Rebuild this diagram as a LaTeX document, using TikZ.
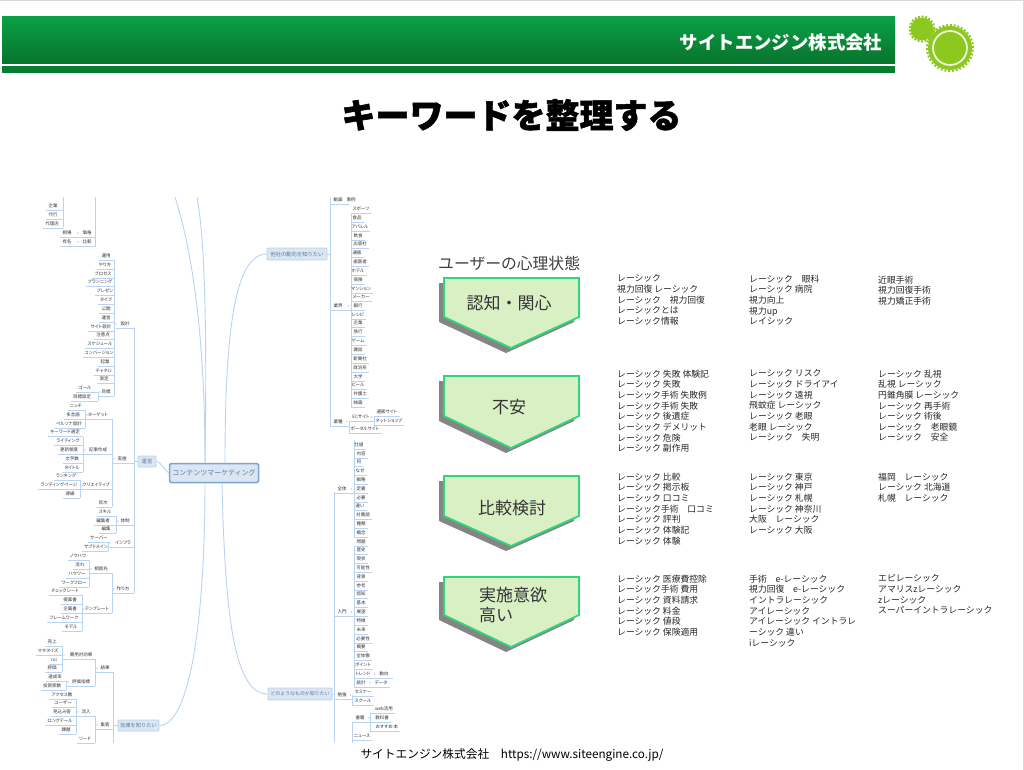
\documentclass[tikz,border=0pt]{standalone}
\usepackage{fontspec}
\setmainfont{Noto Sans CJK JP}
\newfontfamily\leaffont[RawFeature=+palt]{Noto Sans CJK JP}
\usetikzlibrary{calc}
\definecolor{mline}{HTML}{B9D3F2}
\definecolor{mtxt}{HTML}{333333}
\definecolor{mfill}{HTML}{DAE6F3}
\definecolor{mbord}{HTML}{BCD2EA}
\definecolor{mbordc}{HTML}{7DA5D2}
\definecolor{mtxtb}{HTML}{5F7A99}
\definecolor{pfill}{HTML}{D9EFC4}
\definecolor{pbord}{HTML}{2FD67C}
\definecolor{gearg}{HTML}{8CC820}
\definecolor{hdtop}{HTML}{0AA046}
\definecolor{hdbot}{HTML}{08732D}
\definecolor{hdstrip}{HTML}{087D32}
\newcount\nnc
\tikzset{
  leaf/.style={inner xsep=2pt,inner ysep=0pt,minimum height=8pt,text height=4pt,text depth=1pt,text=mtxt,font=\leaffont\fontsize{4.5}{5}\selectfont},
  mainbox/.style={draw=mbord,fill=mfill,rounded corners=1pt,line width=.8pt,text=mtxtb,inner sep=1pt},
  mbr/.style={draw=mline,line width=.9pt},
  mund/.style={draw=mline,line width=.7pt},
  bigc/.style={draw=mline,line width=.9pt},
  kw/.style={anchor=north west,inner sep=0pt,align=left,text=black!85,font=\fontsize{8.8}{10.65}\selectfont},
  plabel/.style={text=black!80,font=\fontsize{17}{20}\selectfont,inner sep=0pt}
}
% text left of the bracket
\newcommand{\mmL}[4]{\global\advance\nnc by 1
  \node[leaf] (n\the\nnc) at (#1,#2) {#3};
  \coordinate (b\the\nnc) at (#4,0);
  \draw[mund] (n\the\nnc.south west) -- (n\the\nnc.south west -| b\the\nnc);}
% text right of the bracket
\newcommand{\mmR}[4]{\global\advance\nnc by 1
  \node[leaf] (n\the\nnc) at (#1,#2) {#3};
  \coordinate (b\the\nnc) at (#4,0);
  \draw[mund] (n\the\nnc.south east) -- (n\the\nnc.south east -| b\the\nnc);}
% parent: underline from bracket to bracket
\newcommand{\mmP}[5]{\global\advance\nnc by 1
  \node[leaf] (n\the\nnc) at (#1,#2) {#3};
  \coordinate (a\the\nnc) at (#4,0);
  \coordinate (b\the\nnc) at (#5,0);
  \draw[mund] (n\the\nnc.south -| a\the\nnc) -- (n\the\nnc.south -| b\the\nnc);}
\newcommand{\mmT}[3]{\global\advance\nnc by 1
  \node[leaf] (n\the\nnc) at (#1,#2) {#3};}
\newcommand{\mmB}[3]{\draw[mbr] (#1,#2) -- (#1,#3);}
\newcommand{\mmD}[2]{\fill[mline] (#1,#2) circle (.9pt);}
\newcommand{\pent}[3]{%
  \fill[black!48] (439,#1+5) -- (574,#1+5) -- (574,#2+5) -- (506,#3+5) -- (439,#2+5) -- cycle;
  \draw[pbord,fill=pfill,line width=1.8pt,line join=miter] (444,#1) -- (579,#1) -- (579,#2) -- (511,#3) -- (444,#2) -- cycle;}
\begin{document}
\begin{tikzpicture}[x=1pt,y=-1pt]
\useasboundingbox (0,0) rectangle (1024,770);
\fill[white] (0,0) rectangle (1024,770);
\draw[black!15,line width=1.2pt] (0,0) -- (1024,0) -- (1024,770);
% header
\shade[top color=hdtop,bottom color=hdbot] (2,17) rectangle (895,64);
\fill[hdstrip] (2,66.5) rectangle (895,73);
\node[text=white,font=\fontsize{18.4}{20}\selectfont\bfseries,inner sep=0pt] (hd) at (781,42) {サイトエンジン株式会社};
% logo
\fill[gearg] (922,29) circle (11.5pt);
\draw[gearg,line width=2pt,dash pattern=on 2pt off 1.6pt] (922,29) circle (12.5pt);
\fill[gearg] (950,48) circle (22pt);
\draw[gearg,line width=2pt,dash pattern=on 2pt off 1.8pt] (950,48) circle (23pt);
\draw[white!85!gearg,line width=1.8pt] (950,48) circle (17pt);
% title
\node[text=black,font=\fontsize{34}{36}\selectfont\bfseries,inner sep=0pt] (title) at (511.5,115) {\addfontfeature{FakeBold=1.5}キーワードを整理する};
% footer
\node[text=black,font=\fontsize{11.7}{13}\selectfont,inner sep=0pt] (foot) at (512,755) {サイトエンジン株式会社　https://www.siteengine.co.jp/};

% ---------- mind map: main nodes
\node[draw=mbordc,fill=mfill,rounded corners=1.5pt,line width=1.5pt,text=mtxtb,font=\fontsize{7}{8}\selectfont,minimum width=89pt,minimum height=19pt,inner sep=0pt] (c) at (214,473) {コンテンツマーケティング};
\node[mainbox,font=\fontsize{5.3}{6}\selectfont,minimum width=18pt,minimum height=11pt] (unei) at (147,461.5) {運営};
\node[mainbox,font=\fontsize{5.2}{6}\selectfont,minimum width=41pt,minimum height=11pt] (koka) at (138.5,725.5) {効果を知りたい};
\node[mainbox,font=\fontsize{5.3}{6}\selectfont,minimum width=60pt,minimum height=12pt] (tasha) at (297,254) {他社の動向を知りたい};
\node[mainbox,font=\fontsize{4.9}{6}\selectfont,minimum width=64pt,minimum height=12pt] (dono) at (300,694) {どのようなものか知りたい};
\coordinate (ca) at (205,463); \coordinate (cb) at (205,483);
\coordinate (cc) at (225,463); \coordinate (cd) at (222,483);
\coordinate (ta) at (175,197); \coordinate (tb) at (197,197);
\draw[bigc] (ca) .. controls (205,350) and (195,260) .. (ta);
\draw[bigc] (ca) .. controls (207,330) and (205,240) .. (tb);
\draw[bigc] (cb) .. controls (205,620) and (190,725) .. (koka.east);
\draw[bigc] (cc) .. controls (225,330) and (235,254) .. (tasha.west);
\draw[bigc] (cd) .. controls (225,620) and (235,694) .. (dono.west);
\draw[bigc] (c.west) .. controls (163,468) and (160,461.5) .. (unei.east);
\coordinate (j1) at (134,461.5); \draw[bigc] (unei.west) -- (j1);
\coordinate (j2) at (113,725.5); \draw[bigc] (koka.west) -- (j2);
\coordinate (j3) at (330,254); \draw[bigc] (tasha.east) -- (j3);
\coordinate (j4) at (334,694); \draw[bigc] (dono.east) -- (j4);

% ---------- left: top fragment
\mmB{63.5}{197}{227}\mmB{95.5}{197}{246}
\mmL{53}{206}{企業}{63.5}\mmL{53}{215}{代行}{63.5}\mmL{52}{224}{代理店}{63.5}
\mmL{67}{233}{相場}{95.5}\mmT{87}{233}{価格}\mmD{78}{233}
\mmL{67}{242}{有名}{95.5}\mmT{87}{242}{比較}\mmD{78}{242}
% design
\mmB{114}{260}{396}\mmB{134}{328}{593}\mmB{98}{392}{401}
\mmL{106}{256}{運用}{114}\mmL{105}{265}{やり方}{114}\mmL{103}{274}{プロセス}{114}\mmL{100}{282}{プランニング}{114}
\mmL{105}{291}{プレゼン}{114}\mmL{106}{300}{タイプ}{114}\mmL{106}{309}{公開}{114}\mmL{106}{318}{運営}{114}
\mmL{101}{327}{サイト設計}{114}\mmL{103}{335}{注意点}{114}\mmL{100}{344}{スケジュール}{114}\mmL{99}{353}{コンバージョン}{114}
\mmL{105}{362}{起業}{114}\mmL{104}{371}{チャネル}{114}\mmL{104}{379}{測定}{114}
\mmL{85}{388}{ゴール}{98}\mmL{82}{397}{目標設定}{98}\mmP{106}{392}{目標}{98}{114}\mmD{100}{392}
\mmP{125}{324}{設計}{116}{134}\mmD{116}{324}
% jisshi
\mmB{112}{419}{507}\mmB{85}{410}{428}\mmB{83}{437}{472}\mmB{80}{480}{498}
\mmP{122}{459}{実施}{112}{134}\mmD{114}{459}
\mmL{76}{406}{ニッチ}{85}\mmL{73}{415}{多言語}{85}\mmL{69}{424}{ペルソナ設計}{85}
\mmP{98}{415}{ターゲット}{85}{112}\mmD{87}{415}
\mmL{65}{432}{キーワード選定}{83}\mmL{68}{441}{ライティング}{83}\mmL{69}{450}{更新頻度}{83}\mmL{72}{459}{文字数}{83}\mmL{72}{468}{タイトル}{83}
\mmP{98}{450}{記事作成}{83}{112}\mmD{85}{450}
\mmL{66}{476}{ランキング}{80}\mmL{59}{485}{ランディングページ}{80}\mmL{70}{494}{導線}{80}
\mmP{96}{485}{クリエイティブ}{80}{112}\mmD{82}{485}
\mmL{103}{503}{目次}{112}
% taisei, infra
\mmB{116}{516}{533}\mmB{108}{542}{551}
\mmL{105}{512}{スキル}{116}\mmL{103}{521}{編集者}{116}\mmL{106}{529}{編集}{116}
\mmP{125}{521}{体制}{116}{134}\mmD{118}{521}
\mmL{99}{538}{サーバー}{108}\mmL{96}{547}{サブドメイン}{108}
\mmP{123}{543}{インフラ}{108}{134}\mmD{110}{543}
% tsukurikata
\mmB{112}{573}{613}\mmB{89}{560}{587}\mmB{82}{595}{631}
\mmL{78}{556}{ノウハウ}{89}\mmL{80}{565}{流れ}{89}\mmL{77}{574}{ハウツー}{89}\mmL{74}{583}{ワークフロー}{89}
\mmP{101}{569}{相談先}{89}{112}\mmD{91}{569}
\mmL{65}{591}{チェックシート}{82}\mmL{70}{600}{提案書}{82}\mmL{70}{609}{企画書}{82}\mmL{64}{618}{フレームワーク}{82}\mmL{71}{627}{モデル}{82}
\mmP{97}{609}{テンプレート}{82}{112}\mmD{84}{609}
\mmP{123}{589}{作り方}{112}{134}\mmD{114}{589}
% effects
\mmB{113}{672}{743}\mmB{95}{659}{686}\mmB{62}{646}{672}\mmB{66}{681}{690}\mmB{95}{716}{743}\mmB{76}{699}{734}
\mmL{52}{642}{売上}{62}\mmL{48}{651}{マネタイズ}{62}\mmL{54}{660}{roi}{62}\mmL{52}{668}{評価}{62}
\mmP{81}{655}{費用対効果}{62}{95}\mmD{64}{655}
\mmL{55}{677}{達成率}{66}\mmL{52}{686}{投資家数}{66}
\mmP{81}{682}{評価指標}{66}{95}\mmD{68}{682}
\mmP{105}{668}{結果}{95}{113}\mmD{97}{668}
\mmL{62}{695}{アクセス数}{76}\mmL{63}{703}{ユーザー}{76}\mmL{62}{712}{見込み客}{76}\mmL{60}{721}{ロングテール}{76}\mmL{66}{730}{課題}{76}
\mmP{86}{712}{流入}{76}{95}\mmD{78}{712}
\mmL{85}{739}{リード}{95}
\mmP{105}{725}{集客}{95}{113}\mmD{97}{725}

% ---------- right: others
\mmB{330}{198}{427}\mmB{351}{213}{408}\mmB{349}{421}{433}\mmB{374}{416}{425}
\mmP{338}{200}{動画}{330}{349}\mmT{351}{200}{事例}
\mmR{361}{209}{スポーツ}{351}\mmR{357}{218}{食品}{351}\mmR{360}{227}{アパレル}{351}\mmR{358}{236}{飲食}{351}
\mmR{360}{244}{出版社}{351}\mmR{357}{253}{通販}{351}\mmR{360}{262}{歯医者}{351}\mmR{358}{271}{ホテル}{351}
\mmR{358}{280}{保険}{351}\mmR{361}{289}{マンション}{351}\mmR{361}{297}{メーカー}{351}\mmR{358}{306}{銀行}{351}
\mmR{358}{315}{レシピ}{351}\mmR{358}{323}{企業}{351}\mmR{358}{332}{旅行}{351}\mmR{358}{341}{ゲーム}{351}
\mmR{358}{350}{雑誌}{351}\mmR{360}{359}{新聞社}{351}\mmR{360}{368}{政治系}{351}\mmR{358}{377}{大学}{351}
\mmR{358}{385}{ビール}{351}\mmR{360}{394}{弁護士}{351}\mmR{358}{403}{映画}{351}
\mmP{338}{306}{業界}{330}{351}\mmD{348.5}{306}
\mmP{338}{422}{業種}{330}{349}\mmD{347}{422}
\mmP{361}{417}{ECサイト}{349}{374}\mmD{371.5}{417}
\mmR{387}{412}{通販サイト}{374}\mmR{389}{421}{ネットショップ}{374}\mmR{365}{429}{ポータルサイト}{349}
% ---------- right: what is it
\mmB{334}{492}{742}\mmB{354}{440}{537}\mmB{354}{546}{687}\mmB{352}{695}{705}\mmB{352}{722}{743}\mmB{370}{713}{731}
\mmR{359}{445}{仕組}{354}\mmR{361}{454}{内容}{354}\mmR{359}{462}{何}{354}\mmR{360}{471}{なぜ}{354}
\mmR{361}{480}{戦略}{354}\mmR{361}{489}{定義}{354}\mmR{361}{498}{必要}{354}\mmR{360}{506}{違い}{354}
\mmR{363}{515}{対義語}{354}\mmR{361}{524}{種類}{354}\mmR{361}{533}{概念}{354}
\mmP{342}{489}{全体}{334}{354}\mmD{351.5}{489}
\mmR{361}{542}{問題}{354}\mmR{361}{550}{歴史}{354}\mmR{361}{559}{現状}{354}\mmR{363}{568}{可能性}{354}
\mmR{361}{577}{背景}{354}\mmR{361}{586}{参考}{354}\mmR{361}{594}{認知}{354}\mmR{361}{603}{基本}{354}
\mmR{361}{612}{展望}{354}\mmR{361}{621}{特徴}{354}\mmR{361}{630}{未来}{354}\mmR{363}{639}{必要性}{354}
\mmR{361}{647}{概要}{354}\mmR{363}{656}{全体像}{354}\mmR{363}{665}{ポイント}{354}
\mmP{363}{674}{トレンド}{354}{393}\mmT{384}{674}{動向}\mmD{374.5}{674}
\mmP{361}{683}{統計}{354}{390}\mmT{381}{683}{データ}\mmD{370}{683}
\mmP{342}{612}{入門}{334}{354}\mmD{351.5}{612}
\mmP{342}{695}{勉強}{334}{352}\mmD{350.5}{695}
\mmR{363}{692}{セミナー}{352}\mmR{363}{701}{スクール}{352}
\mmP{360}{718}{書籍}{352}{370}\mmD{369}{718}
\mmR{384}{709}{web活用}{370}\mmR{382}{718}{教科書}{370}\mmR{387}{727}{おすすめ 本}{370}
\mmR{362}{736}{ニュース}{352}

% ---------- right panel
\node[anchor=west,inner sep=0pt,text=black!75,font=\fontsize{15.8}{18}\selectfont] (ptitle) at (438,263) {ユーザーの心理状態};
\pent{278}{317}{348}
\pent{376}{416}{448}
\pent{476}{516}{546}
\pent{577}{615}{647}
\node[plabel] (p1) at (509,303) {認知・関心};
\node[plabel] (p2) at (509,407) {不安};
\node[plabel] (p3) at (512,508) {比較検討};
\node[plabel,anchor=north west,align=left,font=\fontsize{17}{20}\selectfont] (p4) at (479,587) {実施意欲\\高い};

\node[kw] (k11) at (617,274.5) {レーシック\\視力回復 レーシック\\レーシック　視力回復\\レーシックとは\\レーシック情報};
\node[kw] (k12) at (749,274.5) {レーシック　眼科\\レーシック 病院\\視力向上\\視力up\\レイシック};
\node[kw] (k13) at (878,275.5) {近眼手術\\視力回復手術\\視力矯正手術};
\node[kw] (k21) at (617,369.5) {レーシック 失敗 体験記\\レーシック 失敗\\レーシック手術 失敗例\\レーシック手術 失敗\\レーシック 後遺症\\レーシック デメリット\\レーシック 危険\\レーシック 副作用};
\node[kw] (k22) at (749,369.5) {レーシック リスク\\レーシック ドライアイ\\レーシック 遠視\\飛蚊症 レーシック\\レーシック 老眼\\老眼 レーシック\\レーシック　失明};
\node[kw] (k23) at (878,369.5) {レーシック 乱視\\乱視 レーシック\\円錐角膜 レーシック\\レーシック 再手術\\レーシック 術後\\レーシック　老眼鏡\\レーシック　安全};
\node[kw] (k31) at (617,472.5) {レーシック 比較\\レーシック 掲示板\\レーシック 口コミ\\レーシック手術　口コミ\\レーシック 評判\\レーシック 体験記\\レーシック 体験};
\node[kw] (k32) at (749,472.5) {レーシック 東京\\レーシック 神戸\\レーシック 札幌\\レーシック 神奈川\\大阪　レーシック\\レーシック 大阪};
\node[kw] (k33) at (878,472.5) {福岡　レーシック\\レーシック 北海道\\札幌　レーシック};
\node[kw] (k41) at (617,574.5) {レーシック 医療費控除\\レーシック手術 費用\\レーシック 資料請求\\レーシック 料金\\レーシック 値段\\レーシック 保険適用};
\node[kw] (k42) at (749,574.5) {手術　e-レーシック\\視力回復　e-レーシック\\イントラレーシック\\アイレーシック\\アイレーシック イントラレ\\ーシック 違い\\iレーシック};
\node[kw] (k43) at (878,574.5) {エピレーシック\\アマリスzレーシック\\zレーシック\\スーパーイントラレーシック};
\end{tikzpicture}
\end{document}
